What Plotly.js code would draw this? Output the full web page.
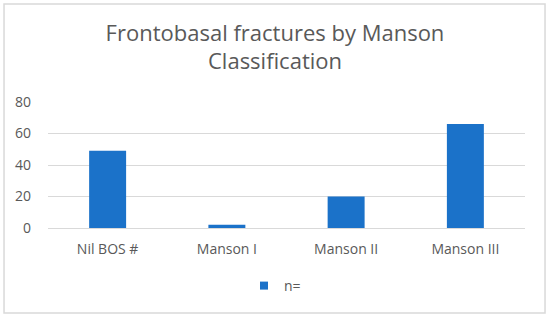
<!DOCTYPE html>
<html>
<head>
<meta charset="utf-8">
<script src="https://cdn.plot.ly/plotly-3.0.1.min.js"></script>
<style>html,body{margin:0;padding:0;background:#fff;}#chart{width:550px;height:320px;}</style>
</head>
<body>
<div id="chart"></div>
<script>
const categories = ["Nil BOS #", "Manson I", "Manson II", "Manson III"];
const values = [49, 2, 20, 66];
const seriesName = "n=";
const yTicks = [0, 20, 40, 60, 80];

const grey = "#595959";
const blue = "#1b72c9";
const font = "Open Sans, sans-serif";

const data = [{
  type: "bar",
  x: categories,
  y: values,
  name: seriesName,
  marker: {color: blue},
  showlegend: false,
  hoverinfo: "x+y"
}, {
  type: "scatter",
  mode: "markers",
  x: [categories[0]],
  y: [null],
  name: seriesName,
  marker: {color: blue, symbol: "square", size: 8},
  showlegend: true
}];

const layout = {
  width: 550, height: 320,
  margin: {l: 48, r: 25, t: 102, b: 92, pad: 0},
  paper_bgcolor: "#ffffff",
  plot_bgcolor: "#ffffff",
  bargap: 0.69,
  title: {
    text: "Frontobasal fractures by Manson<br>Classification",
    font: {family: font, size: 22, color: grey},
    x: 0.5, xanchor: "center", xref: "container",
    y: 0.873, yanchor: "middle", yref: "container"
  },
  xaxis: {
    type: "category",
    showgrid: false, zeroline: false, showline: false,
    ticks: "",
    ticklabelstandoff: 11,
    tickfont: {family: font, size: 14, color: grey},
    fixedrange: true
  },
  yaxis: {
    range: [0, 80],
    tickvals: yTicks,
    ticktext: yTicks.map(String),
    showgrid: true, gridcolor: "#d9d9d9", gridwidth: 1,
    zeroline: true, zerolinecolor: "#d9d9d9", zerolinewidth: 1,
    showline: false, ticks: "",
    ticklabelstandoff: 16,
    tickfont: {family: font, size: 14, color: grey},
    fixedrange: true
  },
  showlegend: true,
  legend: {
    orientation: "h",
    xref: "container", yref: "container",
    x: 0.5, xanchor: "center",
    y: 1 - 286/320, yanchor: "middle",
    font: {family: font, size: 14, color: grey},
    itemwidth: 30
  },
  shapes: [{
    type: "rect", xref: "paper", yref: "paper",
    x0: -0.0922, x1: 1.042, y0: -0.675, y1: 1.778,
    line: {color: "#d9d9d9", width: 1.5},
    fillcolor: "rgba(0,0,0,0)", layer: "below"
  }]
};

Plotly.newPlot("chart", data, layout, {displayModeBar: false, staticPlot: true});
</script>
</body>
</html>
